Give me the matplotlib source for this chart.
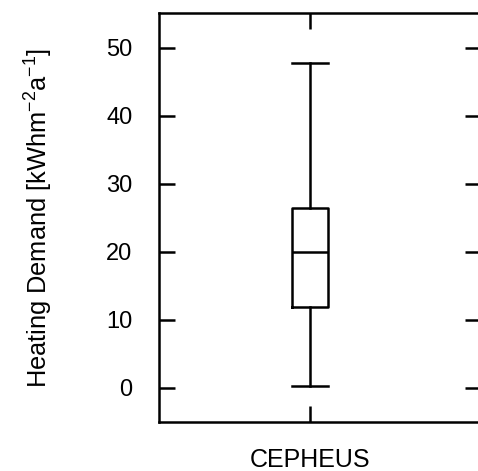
import matplotlib
matplotlib.use('Agg')
import matplotlib.pyplot as plt

plt.rcParams['font.family'] = ['Liberation Sans', 'DejaVu Sans']
plt.rcParams['mathtext.default'] = 'regular'

# box statistics
labels = ['CEPHEUS']
whislo = [0.3]
q1 = [11.9]
med = [20.0]
q3 = [26.5]
whishi = [47.8]
yticks = [0, 10, 20, 30, 40, 50]

stats = [dict(label=l, whislo=a, q1=b, med=c, q3=d, whishi=e)
         for l, a, b, c, d, e in zip(labels, whislo, q1, med, q3, whishi)]

fig = plt.figure(figsize=(4.78, 4.71), dpi=100)
ax = fig.add_axes([159 / 478, 49 / 471, 322 / 478, 409 / 471])

lw = 1.8
ax.bxp(stats, positions=[1], widths=0.12, showfliers=False,
       boxprops=dict(color='black', linewidth=lw),
       medianprops=dict(color='black', linewidth=lw),
       whiskerprops=dict(color='black', linewidth=lw),
       capprops=dict(color='black', linewidth=lw),
       capwidths=0.12)

ax.set_xlim(0.5, 1.566)
ax.set_ylim(-5, 55.1)
ax.set_yticks(yticks)
ax.set_ylabel('Heating Demand [kWhm$^{-2}$a$^{-1}$]', fontsize=18.3, labelpad=37)

for s in ax.spines.values():
    s.set_linewidth(lw)
ax.tick_params(axis='both', direction='in', length=11.5, width=lw,
               top=True, right=True)
ax.tick_params(axis='y', labelsize=17, pad=19)
ax.tick_params(axis='x', labelsize=18, pad=19)

fig.savefig('out.png', dpi=100)
